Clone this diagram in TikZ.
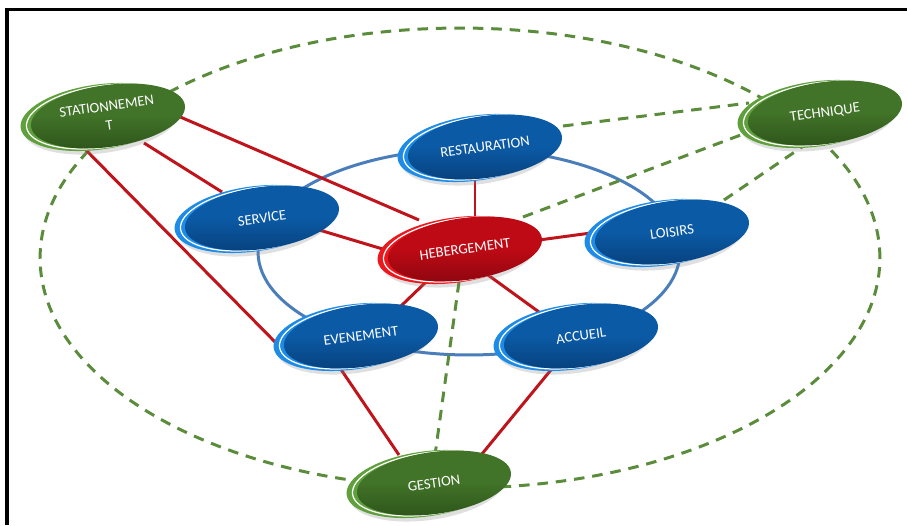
\documentclass[tikz,border=0pt]{standalone}
\usepackage{fontspec}
\setmainfont{Carlito}
\usetikzlibrary{shapes.geometric,shadows,calc}
\definecolor{bluefront}{HTML}{0B5AA5}
\definecolor{bluedark}{HTML}{073F7A}
\definecolor{blueback}{HTML}{1E8CE6}
\definecolor{redfront}{HTML}{BE0A14}
\definecolor{reddark}{HTML}{8A0610}
\definecolor{redback}{HTML}{EB191E}
\definecolor{greenfront}{HTML}{417328}
\definecolor{greendark}{HTML}{2C5219}
\definecolor{greenback}{HTML}{5FA03C}
\definecolor{ringblue}{HTML}{4A7EBB}
\definecolor{linkred}{HTML}{C0141C}
\definecolor{linkgreen}{HTML}{5A8C3C}
\tikzset{
  bub/.style={ellipse, minimum width=88.4pt, minimum height=35.2pt, inner sep=0pt, rotate=8},
  bubback/.style={bub, fill=#1, minimum width=90pt, minimum height=37pt,
    drop shadow={shadow xshift=1.5pt, shadow yshift=-2pt, opacity=0.25}},
  bubline/.style={bub, draw=white, line width=0.7pt},
  bubfront/.style={bub, text=white, font=\fontsize{8.3}{11}\selectfont, align=center},
  redlink/.style={draw=linkred, line width=1.7pt},
  greenlink/.style={draw=linkgreen, line width=1.7pt, dash pattern=on 6pt off 4.5pt},
}
\newcommand\bubble[5]{%
  \node[bubback=#3] (#1-back) at ($(#1)+(-9,-1)$) {};
  \node[bubline] (#1-line) at ($(#1)+(-4.5,-0.5)$) {};
  \node[bubfront, top color=#4, bottom color=#5, middle color=#4] (#1-b) at (#1) {#2};
}
\begin{document}
\begin{tikzpicture}[x=0.02cm, y=0.02cm]
\useasboundingbox (0,0) rectangle (907,525);
\fill[white] (0,0) rectangle (907,525);
\draw[line width=2.2pt] (7,0) -- (7,515.5) -- (907,515.5);
% centres
\coordinate (stat) at (108,409);
\coordinate (rest) at (485,378);
\coordinate (tech) at (825,412);
\coordinate (serv) at (262,307);
\coordinate (heb) at (465,276);
\coordinate (lois) at (672,293);
\coordinate (even) at (361,189);
\coordinate (acc) at (581,189);
\coordinate (gest) at (434,42);
\coordinate (outer) at (460,267);
\coordinate (ring) at (469,273);
% outer dashed ellipse
\draw[greenlink] (outer) ellipse [x radius=8.4cm, y radius=4.6cm];
% inner ring
\draw[ringblue, line width=1.7pt] (ring) ellipse [x radius=4.22cm, y radius=2.06cm];
% red links
\draw[redlink] ($(stat)+(70,0)$) -- ($(heb)+(-46,29)$);
\draw[redlink] ($(stat)+(36,-27)$) -- ($(serv)+(-40,26)$);
\draw[redlink] ($(stat)+(-26,-30)$) -- ($(even)+(-82,-10)$);
\draw[redlink] ($(rest)+(-10,-30)$) -- ($(heb)+(10,32)$);
\draw[redlink] ($(serv)+(54,-11)$) -- ($(heb)+(-79,-1)$);
\draw[redlink] ($(heb)+(74,9)$) -- ($(lois)+(-81,-1)$);
\draw[redlink] ($(heb)+(-38,-32)$) -- ($(even)+(40,30)$);
\draw[redlink] ($(heb)+(23,-26)$) -- ($(acc)+(-42,24)$);
\draw[redlink] ($(even)+(-21,-32)$) -- ($(gest)+(-35,28)$);
\draw[redlink] ($(acc)+(-26,-29)$) -- ($(gest)+(43,23)$);
% green dashed links
\draw[greenlink] ($(rest)+(78,21)$) -- ($(tech)+(-76,10)$);
\draw[greenlink] ($(heb)+(58,32)$) -- ($(tech)+(-79,-20)$);
\draw[greenlink] ($(lois)+(52,32)$) -- ($(tech)+(-23,-34)$);
\draw[greenlink] ($(heb)+(-6,-33)$) -- ($(gest)+(1,28)$);
% bubbles
\bubble{stat}{STATIONNEMEN\\T}{greenback}{greenfront}{greendark}
\bubble{tech}{TECHNIQUE}{greenback}{greenfront}{greendark}
\bubble{gest}{GESTION}{greenback}{greenfront}{greendark}
\bubble{rest}{RESTAURATION}{blueback}{bluefront}{bluedark}
\bubble{serv}{SERVICE}{blueback}{bluefront}{bluedark}
\bubble{lois}{LOISIRS}{blueback}{bluefront}{bluedark}
\bubble{even}{EVENEMENT}{blueback}{bluefront}{bluedark}
\bubble{acc}{ACCUEIL}{blueback}{bluefront}{bluedark}
\bubble{heb}{HEBERGEMENT}{redback}{redfront}{reddark}
\end{tikzpicture}
\end{document}
